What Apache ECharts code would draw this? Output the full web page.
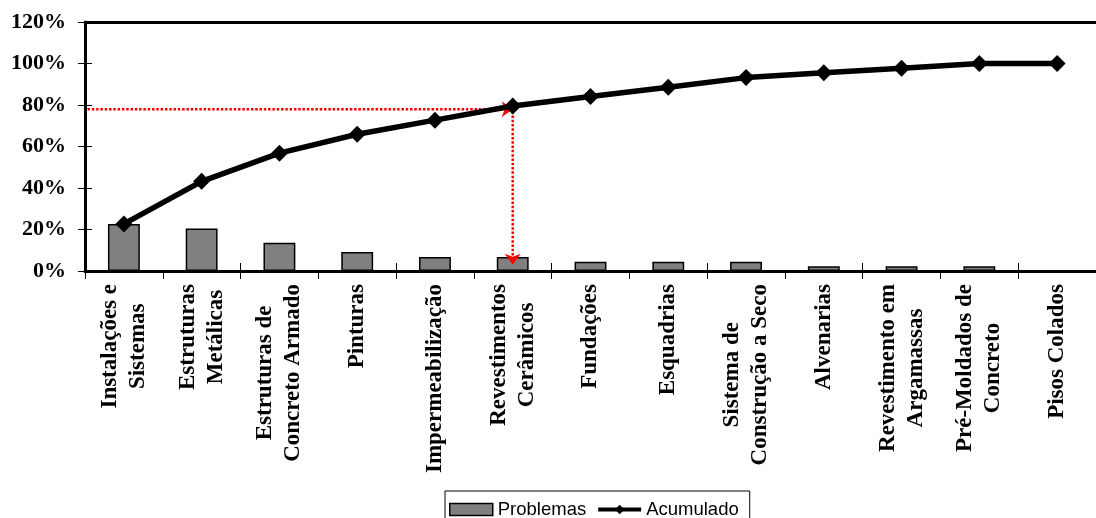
<!DOCTYPE html>
<html>
<head>
<meta charset="utf-8">
<script src="https://cdn.jsdelivr.net/npm/echarts@6/dist/echarts.min.js"></script>
<style>
  html, body { margin: 0; padding: 0; background: #ffffff; }
  #chart { width: 1096px; height: 518px; }
</style>
</head>
<body>
<div id="chart"></div>
<script>
// Pareto of construction problems by discipline
const categories = [
  'Instalações e\nSistemas',
  'Estruturas\nMetálicas',
  'Estruturas de\nConcreto Armado',
  'Pinturas',
  'Impermeabilização',
  'Revestimentos\nCerâmicos',
  'Fundações',
  'Esquadrias',
  'Sistema de\nConstrução a Seco',
  'Alvenarias',
  'Revestimento em\nArgamassas',
  'Pré-Moldados de\nConcreto',
  'Pisos Colados'
];
// share of problems per discipline (%)
const problemas = [22.7, 20.5, 13.6, 9.1, 6.8, 6.8, 4.5, 4.5, 4.5, 2.3, 2.3, 2.3, 0];
// cumulative share (%)
const acumulado = [22.7, 43.2, 56.8, 65.9, 72.7, 79.5, 84.1, 88.6, 93.2, 95.5, 97.7, 100, 100];
const yTicks = [0, 20, 40, 60, 80, 100, 120];
// 80/20 reading guide: level on the cumulative curve and the category it meets
const guideLevel = 78;
const guideCategory = 'Revestimentos\nCerâmicos';
const guideFloor = 3;

const serif = '"Liberation Serif", "Times New Roman", serif';
const sans = '"Liberation Sans", Arial, sans-serif';

const chart = echarts.init(document.getElementById('chart'), null, { renderer: 'canvas' });

const labelRich = {
  c: { align: 'center', fontFamily: serif, fontWeight: 'bold', fontSize: 23, lineHeight: 28, color: '#000' }
};

const yMin = yTicks[0];
const yMax = yTicks[yTicks.length - 1];
const yStep = yTicks[1] - yTicks[0];

const option = {
  backgroundColor: '#ffffff',
  animation: false,
  grid: { left: 85, top: 22, width: 1025, height: 249, containLabel: false },
  legend: {
    left: 445,
    top: 491,
    orient: 'horizontal',
    padding: [9, 11, 8, 4],
    itemGap: 10,
    itemWidth: 43,
    itemHeight: 12,
    borderColor: '#000',
    borderWidth: 1,
    borderRadius: 0,
    textStyle: { fontFamily: sans, fontSize: 18.5, color: '#000' },
    data: [
      { name: 'Problemas', icon: 'rect', itemStyle: { color: '#808080', borderColor: '#000', borderWidth: 1.5 } },
      { name: 'Acumulado', itemStyle: { color: '#000' }, lineStyle: { color: '#000', width: 4 } }
    ]
  },
  xAxis: [
    {
      type: 'category',
      data: categories,
      position: 'bottom',
      boundaryGap: true,
      axisLine: { show: true, onZero: false, lineStyle: { color: '#000', width: 3 } },
      axisTick: { show: true, inside: false, length: 8, alignWithLabel: false, lineStyle: { color: '#000', width: 1 } },
      axisLabel: {
        interval: 0,
        rotate: 90,
        margin: 13,
        color: '#000',
        fontFamily: serif,
        fontWeight: 'bold',
        fontSize: 23,
        lineHeight: 28,
        formatter: (v) => v.split('\n').map(s => '{c|' + s + '}').join('\n'),
        rich: labelRich
      },
      splitLine: { show: false }
    },
    {
      // top frame
      type: 'category',
      data: categories,
      position: 'top',
      axisLine: { show: true, onZero: false, lineStyle: { color: '#000', width: 3 } },
      axisTick: { show: false },
      axisLabel: { show: false },
      splitLine: { show: false }
    },
    {
      // inner half of the crossing ticks
      type: 'category',
      data: categories,
      position: 'bottom',
      axisLine: { show: false, onZero: false },
      axisTick: { show: true, inside: true, length: 8, alignWithLabel: false, lineStyle: { color: '#000', width: 1 } },
      axisLabel: { show: false },
      splitLine: { show: false }
    }
  ],
  yAxis: [
    {
      type: 'value',
      position: 'left',
      min: yMin,
      max: yMax,
      interval: yStep,
      axisLine: { show: true, onZero: false, lineStyle: { color: '#000', width: 3 } },
      axisTick: { show: true, inside: false, length: 7, lineStyle: { color: '#000', width: 1 } },
      axisLabel: {
        margin: 19,
        color: '#000',
        fontFamily: serif,
        fontWeight: 'bold',
        fontSize: 22,
        formatter: '{value}%'
      },
      splitLine: { show: false }
    },
    {
      type: 'value',
      position: 'left',
      min: yMin,
      max: yMax,
      interval: yStep,
      axisLine: { show: false, onZero: false },
      axisTick: { show: true, inside: true, length: 7, lineStyle: { color: '#000', width: 1 } },
      axisLabel: { show: false },
      splitLine: { show: false }
    }
  ],
  series: [
    {
      name: 'Problemas',
      type: 'bar',
      xAxisIndex: 0,
      yAxisIndex: 0,
      data: problemas,
      barWidth: '41%',
      z: 2,
      itemStyle: { color: '#808080', borderColor: '#000', borderWidth: 1.5 }
    },
    {
      name: 'Acumulado',
      type: 'line',
      xAxisIndex: 0,
      yAxisIndex: 0,
      data: acumulado,
      z: 5,
      symbol: 'diamond',
      symbolSize: 17,
      lineStyle: { color: '#000', width: 5.5 },
      itemStyle: { color: '#000' }
    }
  ]
};

chart.setOption(option);

// red dotted guide lines with arrowheads, placed through the chart's scales
function drawGuide() {
  const rect = chart.getModel().getComponent('grid', 0).coordinateSystem.getRect();
  const ci = categories.indexOf(guideCategory);
  const pTop = chart.convertToPixel({ xAxisIndex: 0, yAxisIndex: 0 }, [ci, guideLevel]);
  const pBot = chart.convertToPixel({ xAxisIndex: 0, yAxisIndex: 0 }, [ci, guideFloor]);
  const red = '#ff0000';
  const dotted = { stroke: red, lineWidth: 2.5, lineDash: [2.5, 1.8], fill: null };
  const x0 = rect.x + 2.5;
  const tx = pTop[0], ty = pTop[1];
  const bx = pBot[0], by = pBot[1];
  chart.setOption({
    graphic: [
      { type: 'line', z: 3, shape: { x1: x0, y1: ty, x2: tx - 6, y2: ty }, style: dotted, silent: true },
      {
        type: 'polygon', z: 3, silent: true,
        shape: { points: [[tx, ty], [tx - 11, ty - 8], [tx - 8, ty], [tx - 11, ty + 8]] },
        style: { fill: red, stroke: null }
      },
      { type: 'line', z: 3, shape: { x1: tx, y1: ty + 2, x2: bx, y2: by - 6 }, style: dotted, silent: true },
      {
        type: 'polygon', z: 3, silent: true,
        shape: { points: [[bx, by], [bx - 8, by - 11], [bx, by - 8], [bx + 8, by - 11]] },
        style: { fill: red, stroke: null }
      }
    ]
  });
}
drawGuide();
</script>
</body>
</html>
